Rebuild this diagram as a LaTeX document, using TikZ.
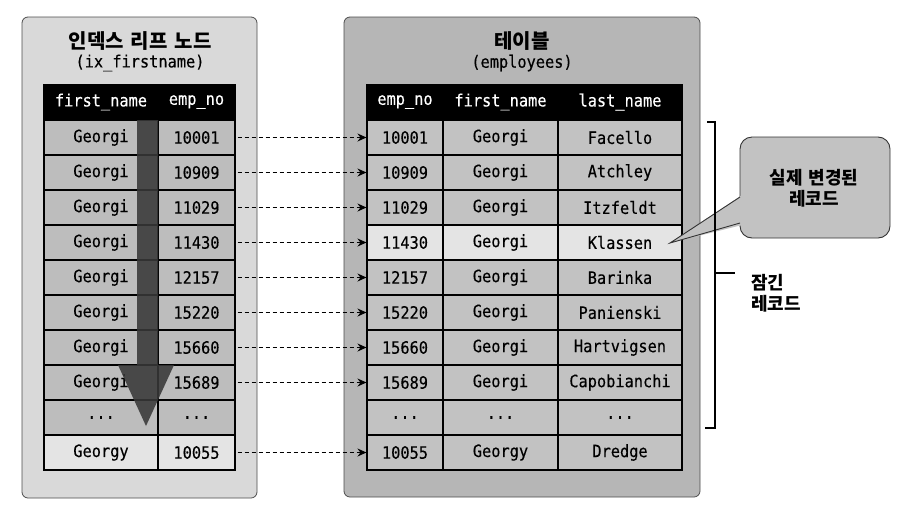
\documentclass[tikz,border=0pt]{standalone}
\usepackage{fontspec}
\newfontfamily\kr{Noto Sans CJK KR}
\newfontfamily\mono{DejaVu Sans Mono}[FakeStretch=0.9, FakeBold=0.3]
\usetikzlibrary{arrows.meta}
\definecolor{panelL}{HTML}{D9D9D9}
\definecolor{panelR}{HTML}{B6B6B6}
\definecolor{rowL}{HTML}{BDBDBD}
\definecolor{rowR}{HTML}{C2C2C2}
\definecolor{rowlight}{HTML}{E4E4E4}
\definecolor{callfill}{HTML}{C2C2C2}
\begin{document}
\begin{tikzpicture}[x=1pt,y=-1pt,
  panel/.style={draw=black!70, line width=0.8pt, rounded corners=6pt},
  cell/.style={draw=black, line width=1.1pt, inner sep=0pt, minimum height=35pt,
    font=\mono\fontsize{17}{20}\selectfont, text=black},
  head/.style={cell, fill=black, text=white, draw=black},
  title/.style={font=\kr\bfseries\fontsize{20}{24}\selectfont, inner sep=0pt},
  subtitle/.style={font=\mono\fontsize{17}{20}\selectfont, inner sep=0pt},
  conn/.style={dash pattern=on 4pt off 3pt, line width=0.9pt, -{Stealth[length=9pt,width=8pt,inset=3pt]}},
  note/.style={font=\kr\bfseries\fontsize{18}{21}\selectfont, inner sep=0pt, align=center},
]
\useasboundingbox (0,0) rectangle (912,528);

% panels
\path[panel, fill=panelL] (22,17) rectangle (257,498);
\path[panel, fill=panelR] (344,17) rectangle (700,497);

% titles
\node[title] (tL) at (140,41) {인덱스\hspace{7pt}리프\hspace{7pt}노드};
\node[subtitle] (sL) at (140,63) {(ix\_firstname)};
\node[title] (tR) at (522,41) {테이블};
\node[subtitle] (sR) at (522,63) {(employees)};

% left header
\node[head, minimum width=114pt] (LH1) at (101,102) {first\_name};
\node[head, minimum width=77pt] (LH2) at (196.5,102) {emp\_no};

% right header
\node[head, minimum width=76pt] (RH1) at (405,102) {emp\_no};
\node[head, minimum width=115pt] (RH2) at (500.5,102) {first\_name};
\node[head, minimum width=124pt] (RH3) at (620,102) {last\_name};

% left rows
\foreach \n/\e [count=\i from 0] in {Georgi/10001,Georgi/10909,Georgi/11029,Georgi/11430,Georgi/12157,Georgi/15220,Georgi/15660,Georgi/15689,{...}/{...},Georgy/10055}{
  \ifnum\i=9 \def\fc{rowlight}\else\def\fc{rowL}\fi
  \pgfmathsetmacro\yy{137.5+35*\i}
  \node[cell, fill=\fc, minimum width=114pt] (L\i n) at (101,\yy) {\n};
  \node[cell, fill=\fc, minimum width=77pt] (L\i e) at (196.5,\yy) {\e};
}

% right rows
\foreach \e/\f/\l [count=\i from 0] in {10001/Georgi/Facello,10909/Georgi/Atchley,11029/Georgi/Itzfeldt,11430/Georgi/Klassen,12157/Georgi/Barinka,15220/Georgi/Panienski,15660/Georgi/Hartvigsen,15689/Georgi/Capobianchi,{...}/{...}/{...},10055/Georgy/Dredge}{
  \ifnum\i=3 \def\fc{rowlight}\else\def\fc{rowR}\fi
  \pgfmathsetmacro\yy{137.5+35*\i}
  \node[cell, fill=\fc, minimum width=76pt] (R\i a) at (405,\yy) {\e};
  \node[cell, fill=\fc, minimum width=115pt] (R\i b) at (500.5,\yy) {\f};
  \node[cell, fill=\fc, minimum width=124pt] (R\i c) at (620,\yy) {\l};
}

% scan arrow
\fill[black!78, opacity=0.88] (137,120) -- (158,120) -- (158,365) -- (174,365) -- (146,426) -- (118,365) -- (137,365) -- cycle;

% connectors
\foreach \i in {0,...,7,9}{
  \draw[conn] ([xshift=2pt]L\i e.east) -- (R\i a.west);
}

% callout
\path[draw=black!80, line width=0.9pt, fill=callfill, rounded corners=12pt] (740,137) rectangle (890,238);
\fill[callfill] (742,195) -- (670,243) -- (742,225) -- cycle;
\draw[black!80, line width=0.9pt] (740,197) -- (670,243) -- (740,223);
\node[note] (callout) at (814,188) {실제\hspace{6pt}변경된\\레코드};

% bracket
\coordinate (bt) at (715,122);
\coordinate (bb) at (715,428);
\coordinate (bm) at (715,273);
\draw[line width=1.8pt] ([xshift=-8pt]bt) -- (bt) -- (bb) -- ([xshift=-10pt]bb);
\draw[line width=1.8pt] (bm) -- ([xshift=20pt]bm);
\node[note, align=left, anchor=west] (locked) at (751,293) {잠긴\\레코드};
\end{tikzpicture}
\end{document}
